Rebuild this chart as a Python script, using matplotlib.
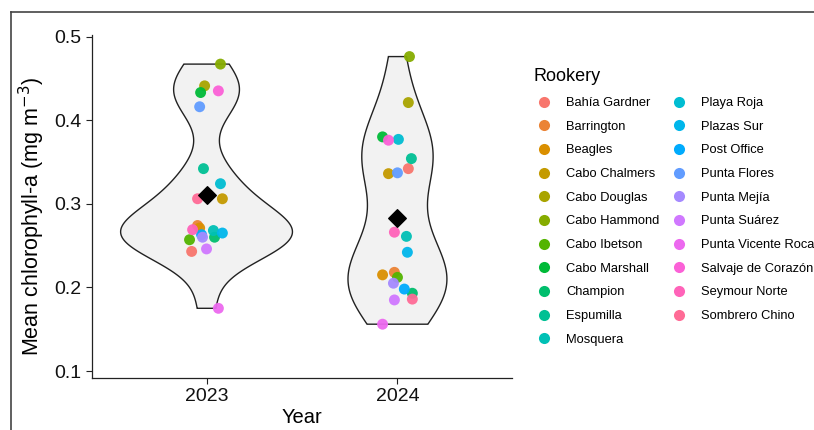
import numpy as np
import matplotlib
matplotlib.use("Agg")
import matplotlib.pyplot as plt
from matplotlib.lines import Line2D

rookeries = ["Bahía Gardner", "Barrington", "Beagles", "Cabo Chalmers", "Cabo Douglas",
             "Cabo Hammond", "Cabo Ibetson", "Cabo Marshall", "Champion", "Espumilla",
             "Mosquera", "Playa Roja", "Plazas Sur", "Post Office", "Punta Flores",
             "Punta Mejía", "Punta Suárez", "Punta Vicente Roca", "Salvaje de Corazón",
             "Seymour Norte", "Sombrero Chino"]

years = ["2023", "2024"]

# mean chlorophyll-a per rookery, same order as rookeries
chl_2023 = [0.243, 0.274, 0.271, 0.306, 0.441, 0.467, 0.257, 0.433, 0.260, 0.342,
            0.268, 0.324, 0.265, 0.263, 0.416, 0.260, 0.246, 0.175, 0.435, 0.269, 0.306]
chl_2024 = [0.342, 0.218, 0.215, 0.336, 0.421, 0.476, 0.212, 0.380, 0.193, 0.354,
            0.261, 0.377, 0.242, 0.198, 0.337, 0.205, 0.185, 0.156, 0.376, 0.266, 0.186]

# horizontal jitter of each point (fraction of a category)
jit_2023 = [-0.078, -0.047, -0.036, 0.083, -0.010, 0.073, -0.089, -0.031, 0.042, -0.016,
            0.036, 0.073, 0.083, -0.026, -0.036, -0.021, 0.000, 0.062, 0.062, -0.073, -0.047]
jit_2024 = [0.057, -0.016, -0.078, -0.047, 0.057, 0.063, 0.000, -0.078, 0.078, 0.073,
            0.047, 0.005, 0.052, 0.036, 0.000, -0.021, -0.016, -0.078, -0.047, -0.016, 0.078]


def hcl(h, c=100, l=65):
    """ggplot-style hue colour (polar Luv -> sRGB)"""
    h = np.radians(h)
    u, v = c * np.cos(h), c * np.sin(h)
    xn, yn, zn = 95.047, 100.0, 108.883
    un = 4 * xn / (xn + 15 * yn + 3 * zn)
    vn = 9 * yn / (xn + 15 * yn + 3 * zn)
    y = yn * ((l + 16) / 116) ** 3
    up = u / (13 * l) + un
    vp = v / (13 * l) + vn
    x = 9 * y * up / (4 * vp)
    z = -x / 3 - 5 * y + 3 * y / vp
    m = np.array([[3.240479, -1.537150, -0.498535],
                  [-0.969256, 1.875992, 0.041556],
                  [0.055648, -0.204043, 1.057311]])
    rgb = m @ (np.array([x, y, z]) / 100)
    rgb = np.where(rgb > 0.0031308, 1.055 * np.abs(rgb) ** (1 / 2.4) - 0.055, 12.92 * rgb)
    return tuple(np.clip(rgb, 0, 1))


def kde(vals, grid):
    vals = np.asarray(vals)
    q75, q25 = np.percentile(vals, [75, 25])
    bw = 0.9 * min(vals.std(ddof=1), (q75 - q25) / 1.34) * len(vals) ** -0.2
    d = np.exp(-0.5 * ((grid[:, None] - vals[None, :]) / bw) ** 2).sum(axis=1)
    return d / (len(vals) * bw * np.sqrt(2 * np.pi))


n = len(rookeries)
colors = [hcl(15 + i * 360 / n) for i in range(n)]
data = [chl_2023, chl_2024]
jits = [jit_2023, jit_2024]

plt.rcParams['font.family'] = ['Liberation Sans', 'DejaVu Sans']
fig = plt.figure(figsize=(8.14, 4.30), dpi=100)
ax = fig.add_axes([0.113, 0.121, 0.516, 0.798])

grids = [np.linspace(min(v), max(v), 512) for v in data]
dens = [kde(v, g) for v, g in zip(data, grids)]
dmax = max(d.max() for d in dens)
for i, (g, d) in enumerate(zip(grids, dens)):
    w = 0.45 * d / dmax
    xs = np.concatenate([i + 1 - w, (i + 1 + w)[::-1]])
    ys = np.concatenate([g, g[::-1]])
    ax.fill(xs, ys, facecolor="#f2f2f2", edgecolor="#222222", lw=1.0, zorder=1)

for i, (v, j) in enumerate(zip(data, jits)):
    for k in range(n):
        ax.scatter(i + 1 + j[k], v[k], s=62, color=colors[k], alpha=0.95,
                   edgecolors="none", zorder=2)
    ax.scatter(i + 1, np.mean(v), marker="D", s=80, color="black", zorder=3)

ax.set_xlim(0.4, 2.6)
ax.set_ylim(0.0917, 0.502)
ax.set_xticks([1, 2])
ax.set_xticklabels(years)
ax.set_yticks([0.1, 0.2, 0.3, 0.4, 0.5])
ax.set_yticklabels(["0.1", "0.2", "0.3", "0.4", "0.5"])
ax.tick_params(labelsize=14, length=4, width=0.8, colors="#222222", labelcolor="#111111")
for s in ["top", "right"]:
    ax.spines[s].set_visible(False)
for s in ["left", "bottom"]:
    ax.spines[s].set_linewidth(0.9)
    ax.spines[s].set_color("#222222")
ax.set_xlabel("Year", fontsize=14.5, labelpad=2)
ax.set_ylabel("Mean chlorophyll-a (mg m$^{-3}$)", fontsize=15.5)
ax.yaxis.set_label_coords(-0.107, 0.47)

handles = [Line2D([], [], marker="o", ls="", markersize=8, color=c, markeredgewidth=0)
           for c in colors]
fig.legend(handles, rookeries, ncol=2, loc="upper left", bbox_to_anchor=(0.656, 0.841),
           frameon=False, fontsize=9.3, handlelength=1.6, handletextpad=0.88,
           columnspacing=0.75, labelspacing=0.9, borderpad=0, borderaxespad=0,
           title="Rookery", title_fontsize=13, alignment="left")

# screenshot frame
fig.add_artist(Line2D([0.013, 1.0], [0.972, 0.972], color="#444444", lw=1.2))
fig.add_artist(Line2D([0.013, 0.013], [0.0, 0.972], color="#444444", lw=1.2))

fig.savefig("out.png", dpi=100)
